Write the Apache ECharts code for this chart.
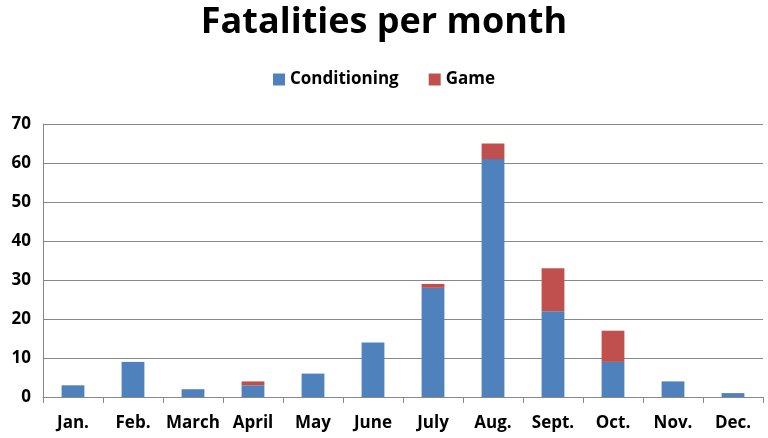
<!DOCTYPE html>
<html><head><meta charset="utf-8">
<script src="https://cdn.jsdelivr.net/npm/echarts@6/dist/echarts.min.js"></script>
<style>html,body{margin:0;padding:0;background:#fff}#c{width:768px;height:438px}</style>
</head><body><div id="c"></div>
<script>
const months = ['Jan.','Feb.','March','April','May','June','July','Aug.','Sept.','Oct.','Nov.','Dec.'];
const conditioning = [3, 9, 2, 3, 6, 14, 28, 61, 22, 9, 4, 1];
const game = [0, 0, 0, 1, 0, 0, 1, 4, 11, 8, 0, 0];
const yTicks = [0, 10, 20, 30, 40, 50, 60, 70];

const chart = echarts.init(document.getElementById('c'));
const font = '"Open Sans", "Liberation Sans", sans-serif';
chart.setOption({
  animation: false,
  title: { text: 'Fatalities per month', left: 'center', top: 0,
    textStyle: { fontFamily: font, fontSize: 36, fontWeight: 'bold', color: '#000' } },
  legend: { top: 66, left: 'center', itemWidth: 12, itemHeight: 12, itemGap: 30,
    icon: 'rect',
    textStyle: { fontFamily: font, fontSize: 17, fontWeight: 'bold', color: '#000' },
    data: ['Conditioning', 'Game'] },
  grid: { left: 43, right: 5, top: 124, bottom: 41, containLabel: false },
  xAxis: { type: 'category', data: months, boundaryGap: true,
    axisLine: { lineStyle: { color: '#888', width: 1 } },
    axisTick: { show: true, length: 6, lineStyle: { color: '#888' } },
    axisLabel: { interval: 0, fontFamily: font, fontSize: 17, fontWeight: 'bold', color: '#000', margin: 18 } },
  yAxis: { type: 'value', min: yTicks[0], max: yTicks[yTicks.length-1], interval: 10,
    axisLine: { show: true, lineStyle: { color: '#888' } },
    axisTick: { show: false },
    splitLine: { lineStyle: { color: '#888', width: 1 } },
    axisLabel: { fontFamily: font, fontSize: 17, fontWeight: 'bold', color: '#000', margin: 12 } },
  series: [
    { name: 'Conditioning', type: 'bar', stack: 'a', data: conditioning, barWidth: '38%',
      itemStyle: { color: '#4F81BD' } },
    { name: 'Game', type: 'bar', stack: 'a', data: game, barWidth: '38%',
      itemStyle: { color: '#C0504D' } }
  ]
});
</script></body></html>
